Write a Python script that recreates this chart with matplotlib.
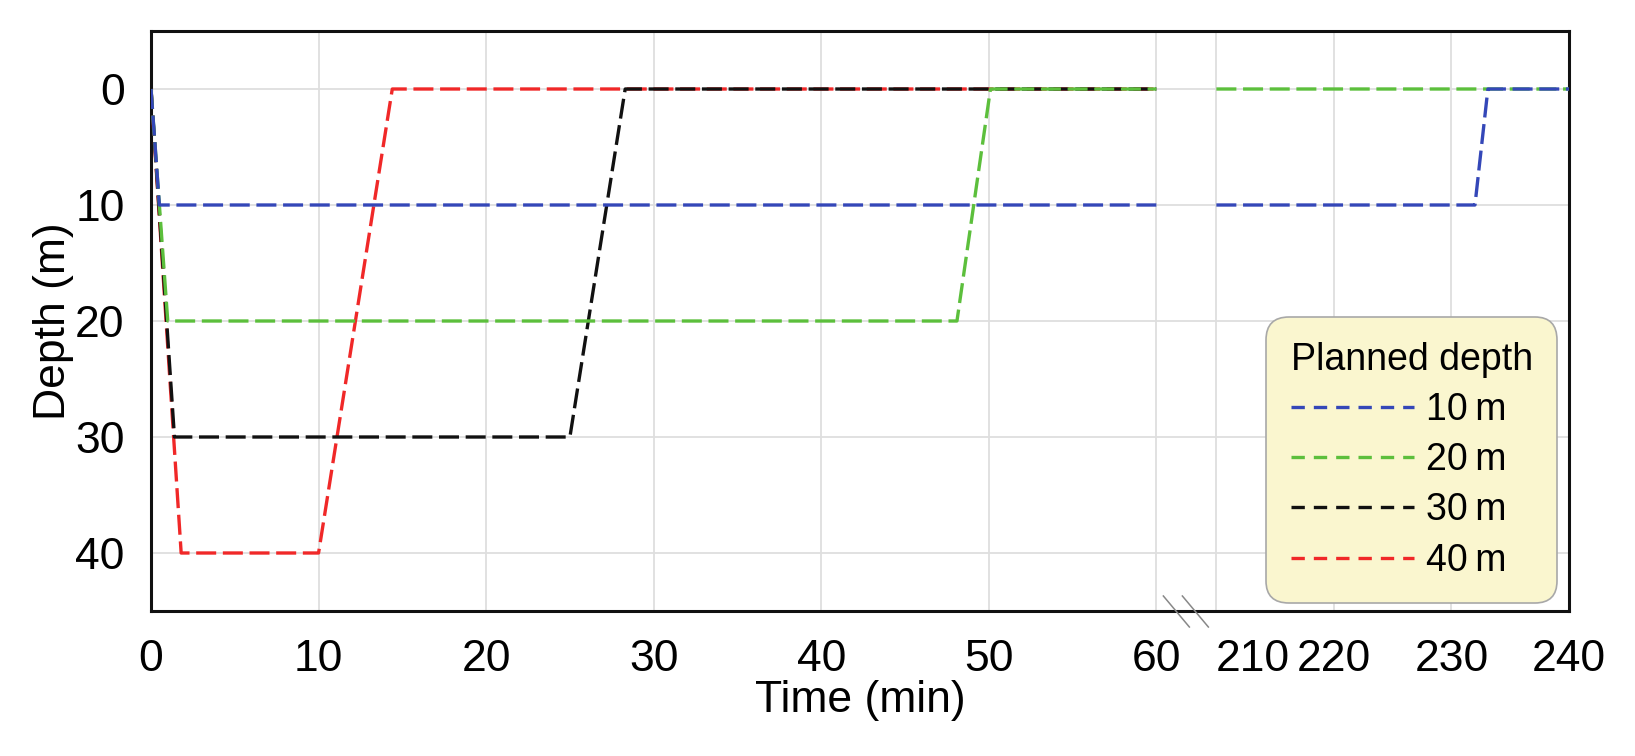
import numpy as np
import matplotlib
matplotlib.use("Agg")
import matplotlib.pyplot as plt
from matplotlib.lines import Line2D
from matplotlib.transforms import ScaledTranslation, blended_transform_factory

plt.rcParams['font.family'] = ['Liberation Sans', 'DejaVu Sans']

# ---- data (time in min, depth in m) ----
t10 = [0, 0.5, 60, np.nan, 210, 232.0, 233.1, 240]
d10 = [0, 10, 10, np.nan, 10, 10, 0, 0]
t20 = [0, 1.0, 48.1, 50.1, 60, np.nan, 210, 240]
d20 = [0, 20, 20, 0, 0, np.nan, 0, 0]
t30 = [0, 1.4, 25.0, 28.3, 60]
d30 = [0, 30, 30, 0, 0]
t40 = [0, 1.8, 10.0, 14.4, 60]
d40 = [0, 40, 40, 0, 0]

labels = ["10\u2009m", "20\u2009m", "30\u2009m", "40\u2009m"]
colors = ["#3447b8", "#5cbf3c", "#111111", "#f02828"]

xticks = [0, 10, 20, 30, 40, 50, 60, 210, 220, 230, 240]
yticks = [0, 10, 20, 30, 40]

# ---- broken-axis scale ----
GAP = 60 / 16.75          # width of 60..210 gap in left-scale units
R = 11.75 / 16.75         # compression of right segment


def fwd(x):
    x = np.asarray(x, dtype=float)
    return np.where(x <= 60, x,
                    np.where(x >= 210, 60 + GAP + (x - 210) * R,
                             60 + (x - 60) * GAP / 150))


def inv(u):
    u = np.asarray(u, dtype=float)
    return np.where(u <= 60, u,
                    np.where(u >= 60 + GAP, 210 + (u - 60 - GAP) / R,
                             60 + (u - 60) * 150 / GAP))


W, H = 1635, 756
fig = plt.figure(figsize=(W / 100, H / 100), dpi=100)
ax = fig.add_axes([151 / W, 1 - 611 / H, (1569 - 151) / W, (611 - 31) / H])
ax.set_xscale('function', functions=(fwd, inv))
ax.set_xlim(0, 240)
ax.set_ylim(45, -5)

dash = (6.0, 2.0)
lw = 2.4
series = [(t10, d10), (t20, d20), (t30, d30), (t40, d40)]
handles = [None] * 4
for i in [3, 2, 1, 0]:
    t, d = series[i]
    ln, = ax.plot(t, d, color=colors[i], lw=lw, dashes=dash, label=labels[i],
                  zorder=3 + (3 - i))
    handles[i] = ln

XPAD = 20
ax.set_xticks(xticks)
ax.set_yticks(yticks)
xl = [str(v) for v in xticks]
xl[xticks.index(210)] = ""
ax.set_xticklabels(xl)
ax.grid(True, color="#dedede", lw=1.3, zorder=0)
ax.tick_params(length=0, labelsize=32, pad=XPAD)
ax.tick_params(axis='y', pad=19)

# 210 label shifted right of its gridline (as in the original)
tr = blended_transform_factory(ax.transData, ax.transAxes) + \
    ScaledTranslation(36 / 100, -XPAD / 72, fig.dpi_scale_trans)
ax.text(210, 0, "210", transform=tr, ha='center', va='top', fontsize=32)

for s in ax.spines.values():
    s.set_linewidth(2.2)
    s.set_color("#111111")

ax.set_xlabel("Time (min)", fontsize=32, labelpad=0)
ax.set_ylabel("Depth (m)", fontsize=32, labelpad=1)

# break marks at the axis bottom, centred in the gap
xm = float(inv(60 + GAP / 2))
btr = blended_transform_factory(ax.transData, ax.transAxes)
fig.canvas.draw()
p = btr.transform((xm, 0))
for dx in (-10, 9):
    l = Line2D([-13 / 100, 13 / 100], [15 / 100, -16 / 100], color="#888888", lw=1.1,
               transform=fig.dpi_scale_trans + ScaledTranslation(p[0] / 100 + dx / 100,
                                                                 p[1] / 100,
                                                                 fig.dpi_scale_trans))
    l.set_clip_on(False)
    fig.add_artist(l)

leg = ax.legend(handles=handles, labels=labels, title="Planned depth",
                loc='lower right', bbox_to_anchor=(1557 / W, 1 - 603 / H),
                bbox_transform=fig.transFigure, borderaxespad=0,
                fontsize=27, title_fontsize=27, handlelength=3.3,
                handletextpad=0.3, labelspacing=0.38, borderpad=0.65,
                fancybox=True, framealpha=1, facecolor="#faf6cf",
                edgecolor="#a8a8a8", alignment='left')
leg.get_frame().set_linewidth(1.2)
leg.get_frame().set_boxstyle("round", pad=0, rounding_size=0.6)
for h in leg.legend_handles:
    h.set_linewidth(2.4)
    h.set_dashes((4.0, 2.7))

fig.savefig("out.png", dpi=100)
